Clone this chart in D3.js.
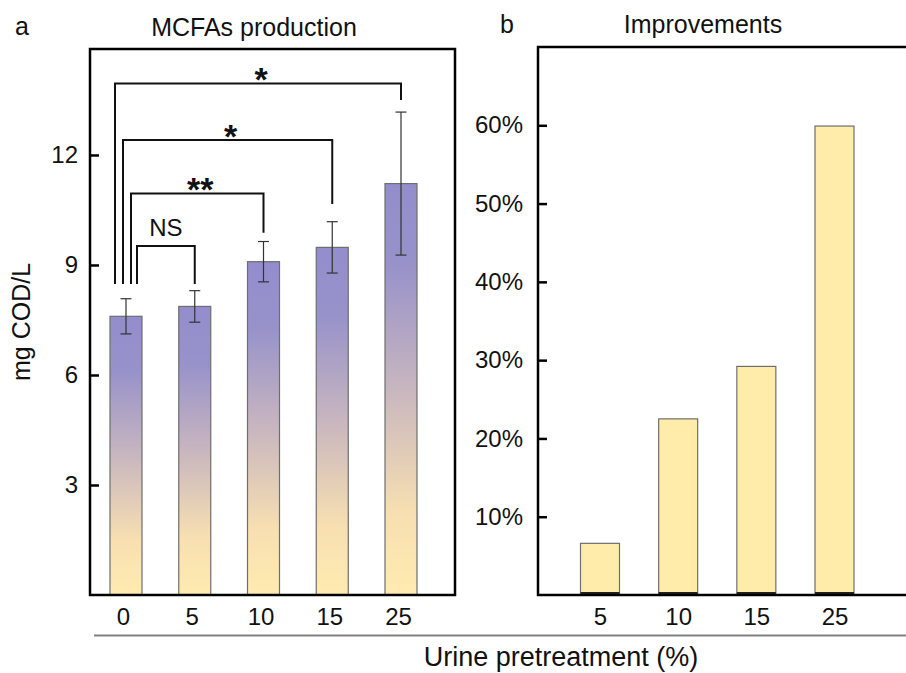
<!DOCTYPE html>
<html>
<head>
<meta charset="utf-8">
<script src="https://cdn.jsdelivr.net/npm/d3@7"></script>
<style>
	body{margin:0;background:#fff;}
	svg{display:block;font-family:"Liberation Sans",Arial,sans-serif;}
</style>
</head>
<body>
<svg id="chart" width="906" height="673"></svg>
<script>
//data
var dosesA = ["0","5","10","15","25"];
var mcfaMean = [7.60, 7.87, 9.09, 9.48, 11.22];
var mcfaErr = [0.48, 0.43, 0.55, 0.70, 1.95];
var ticksA = [3, 6, 9, 12];

var dosesB = ["5","10","15","25"];
var improvement = [6.6, 22.5, 29.2, 59.9];
var ticksB = [10, 20, 30, 40, 50, 60];

//significance brackets: from group, to group, bar height, drop ends (data units), label
var sigFrom = ["0","0","0","0"];
var sigTo = ["25","15","10","5"];
var sigTop = [13.95, 12.41, 10.95, 9.52];
var sigEndL = [8.48, 8.48, 8.48, 8.48];
var sigEndR = [13.50, 10.66, 9.88, 8.48];
var sigLabel = ["*", "*", "**", "NS"];
var sigShift = [-11, -3, 5, 11]; //left legs are fanned out next to the 0 bar

(function(){
	var svg = d3.select("#chart");
	var dom = {};

	//---------- panel a ----------
	var a = {l:90, r:455, t:49, b:595};
	var xa = d3.scalePoint().domain(dosesA).range([126, 401]);
	var ya = d3.scaleLinear().domain([0, 14.89]).range([a.b, a.t]);
	var bwA = 32;

	//gradient fill per bar
	var defs = svg.append("defs");
	var grad = defs.append("linearGradient").attr("id","gradA")
		.attr("x1",0).attr("y1",0).attr("x2",0).attr("y2",1);
	[[0,"#938dcd"],[0.2,"#9892ca"],[0.5,"#c8b6bf"],[0.8,"#f7dfb1"],[1,"#ffebb0"]].forEach(function(s){
		grad.append("stop").attr("offset",s[0]).attr("stop-color",s[1]);
	});

	dom.a = svg.append("g");

	dom.a.selectAll("rect.bar").data(mcfaMean).enter().append("rect")
		.attr("class","bar")
		.attr("x", function(d,i){return xa(dosesA[i]) - bwA/2})
		.attr("y", function(d){return ya(d)})
		.attr("width", bwA)
		.attr("height", function(d){return ya(0) - ya(d)})
		.attr("fill","url(#gradA)")
		.attr("stroke","#6e6e6e").attr("stroke-width",1.2);

	//error bars
	var eb = dom.a.selectAll("g.err").data(mcfaMean).enter().append("g").attr("class","err")
		.attr("stroke","#333").attr("stroke-width",1.2);
	eb.append("line")
		.attr("x1", function(d,i){return xa(dosesA[i])}).attr("x2", function(d,i){return xa(dosesA[i])})
		.attr("y1", function(d,i){return ya(d + mcfaErr[i])}).attr("y2", function(d,i){return ya(d - mcfaErr[i])});
	[1,-1].forEach(function(sg){
		eb.append("line")
			.attr("x1", function(d,i){return xa(dosesA[i]) - 5.5}).attr("x2", function(d,i){return xa(dosesA[i]) + 5.5})
			.attr("y1", function(d,i){return ya(d + sg*mcfaErr[i])}).attr("y2", function(d,i){return ya(d + sg*mcfaErr[i])});
	});

	//brackets
	var br = dom.a.selectAll("g.sig").data(sigLabel).enter().append("g").attr("class","sig");
	br.append("path")
		.attr("fill","none").attr("stroke","#111").attr("stroke-width",2)
		.attr("d", function(d,i){
			var x1 = xa(sigFrom[i]) + sigShift[i], x2 = xa(sigTo[i]);
			return "M"+x1+","+ya(sigEndL[i])+"V"+ya(sigTop[i])+"H"+x2+"V"+ya(sigEndR[i]);
		});
	br.append("text")
		.attr("x", function(d,i){return (xa(sigFrom[i]) + sigShift[i] + xa(sigTo[i]))/2 + (d==="NS" ? 0 : 3)})
		.attr("y", function(d,i){return ya(sigTop[i]) + (d==="NS" ? -10 : 8)})
		.attr("text-anchor","middle")
		.attr("fill","#111")
		.style("font-size", function(d){return d==="NS" ? "24px" : "34px"})
		.style("font-weight", function(d){return d==="NS" ? "normal" : "bold"})
		.text(function(d){return d});

	//frame
	dom.a.append("path").attr("fill","none").attr("stroke","#000").attr("stroke-width",2.5)
		.attr("d","M"+a.l+","+a.b+"V"+a.t+"H"+a.r+"V"+a.b+"Z");

	//axes
	var yaxA = dom.a.append("g").attr("transform","translate("+a.l+",0)")
		.call(d3.axisLeft(ya).tickValues(ticksA).tickSizeInner(-9).tickSizeOuter(0).tickPadding(12));
	yaxA.select(".domain").remove();
	yaxA.selectAll(".tick line").attr("stroke","#000").attr("stroke-width",2.5);
	yaxA.selectAll("text").style("font-size","24px").style("font-family","inherit").attr("fill","#111");

	var xaxA = dom.a.append("g").attr("transform","translate(-3,"+a.b+")")
		.call(d3.axisBottom(xa).tickSize(0).tickPadding(13));
	xaxA.select(".domain").remove();
	xaxA.selectAll("text").style("font-size","24px").style("font-family","inherit").attr("fill","#111");

	svg.append("text").attr("transform","translate(30,322) rotate(-90)")
		.attr("text-anchor","middle").style("font-size","25px").attr("fill","#111").text("mg COD/L");
	svg.append("text").attr("x",254).attr("y",36).attr("text-anchor","middle")
		.style("font-size","25px").attr("fill","#111").text("MCFAs production");
	svg.append("text").attr("x",15).attr("y",35).style("font-size","25px").attr("fill","#111").text("a");

	//---------- panel b ----------
	var b = {l:538, r:912, t:47, b:595};
	var xb = d3.scalePoint().domain(dosesB).range([600, 834.5]);
	var yb = d3.scaleLinear().domain([0, 70]).range([b.b, b.t]);
	var bwB = 39;

	dom.b = svg.append("g");
	dom.b.selectAll("rect.bar").data(improvement).enter().append("rect")
		.attr("class","bar")
		.attr("x", function(d,i){return xb(dosesB[i]) - bwB/2})
		.attr("y", function(d){return yb(d)})
		.attr("width", bwB)
		.attr("height", function(d){return yb(0) - yb(d)})
		.attr("fill","#ffebaa")
		.attr("stroke","#6e6e6e").attr("stroke-width",1.2);
	//dark foot under each bar
	dom.b.selectAll("line.foot").data(improvement).enter().append("line")
		.attr("class","foot")
		.attr("x1", function(d,i){return xb(dosesB[i]) - bwB/2}).attr("x2", function(d,i){return xb(dosesB[i]) + bwB/2})
		.attr("y1", yb(0) - 2).attr("y2", yb(0) - 2)
		.attr("stroke","#222").attr("stroke-width",2);

	dom.b.append("path").attr("fill","none").attr("stroke","#000").attr("stroke-width",2.5)
		.attr("d","M"+b.r+","+b.t+"H"+b.l+"V"+b.b+"H"+b.r);

	var yaxB = dom.b.append("g").attr("transform","translate("+b.l+",0)")
		.call(d3.axisLeft(yb).tickValues(ticksB).tickFormat(function(d){return d+"%"})
			.tickSizeInner(-9).tickSizeOuter(0).tickPadding(15));
	yaxB.select(".domain").remove();
	yaxB.selectAll(".tick line").attr("stroke","#000").attr("stroke-width",2.5);
	yaxB.selectAll("text").style("font-size","24px").style("font-family","inherit").attr("fill","#111");

	var xaxB = dom.b.append("g").attr("transform","translate(0,"+b.b+")")
		.call(d3.axisBottom(xb).tickSize(0).tickPadding(13));
	xaxB.select(".domain").remove();
	xaxB.selectAll("text").style("font-size","24px").style("font-family","inherit").attr("fill","#111");

	svg.append("text").attr("x",703).attr("y",33).attr("text-anchor","middle")
		.style("font-size","25px").attr("fill","#111").text("Improvements");
	svg.append("text").attr("x",500).attr("y",33).style("font-size","25px").attr("fill","#111").text("b");

	//shared x title
	svg.append("line").attr("x1",94).attr("x2",906).attr("y1",635.5).attr("y2",635.5)
		.attr("stroke","#808080").attr("stroke-width",2);
	svg.append("text").attr("x",561).attr("y",666).attr("text-anchor","middle")
		.style("font-size","27px").attr("fill","#111").text("Urine pretreatment (%)");
})();
</script>
</body>
</html>
